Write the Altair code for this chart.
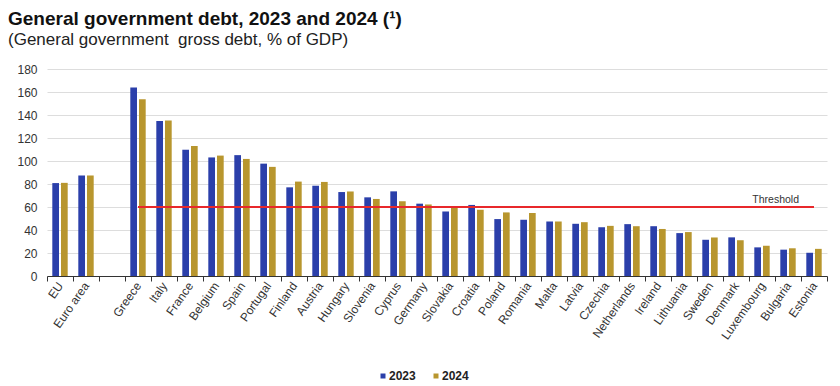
import altair as alt
import pandas as pd

countries = ["EU", "Euro area", "Greece", "Italy", "France", "Belgium", "Spain",
             "Portugal", "Finland", "Austria", "Hungary", "Slovenia", "Cyprus",
             "Germany", "Slovakia", "Croatia", "Poland", "Romania", "Malta",
             "Latvia", "Czechia", "Netherlands", "Ireland", "Lithuania", "Sweden",
             "Denmark", "Luxembourg", "Bulgaria", "Estonia"]
debt_2023 = [80.8, 87.4, 164.0, 134.8, 109.8, 103.1, 105.1, 97.7, 77.1, 78.5,
             73.0, 68.4, 73.6, 62.9, 56.1, 61.8, 49.5, 48.9, 47.4, 45.4, 42.4,
             45.1, 43.3, 37.3, 31.5, 33.6, 24.9, 22.9, 20.2]
debt_2024 = [81.0, 87.4, 153.8, 135.3, 113.0, 104.7, 101.8, 94.9, 82.1, 81.8,
             73.5, 67.0, 65.0, 62.2, 59.3, 57.6, 55.3, 54.8, 47.4, 46.8, 43.6,
             43.3, 40.9, 38.2, 33.5, 31.1, 26.3, 24.1, 23.6]
years = ["2023", "2024"]
threshold_value = 60
threshold_countries = countries[2:]
gap_label = " "
x_domain = countries[:2] + [gap_label] + countries[2:]
y_ticks = [0, 20, 40, 60, 80, 100, 120, 140, 160, 180]

rows = []
for c, a, b in zip(countries, debt_2023, debt_2024):
    rows.append({"country": c, "year": "2023", "value": a})
    rows.append({"country": c, "year": "2024", "value": b})
df = pd.DataFrame(rows)
df_thr = pd.DataFrame({"country": threshold_countries,
                       "value": [threshold_value] * len(threshold_countries)})
df_lbl = pd.DataFrame({"country": ["Bulgaria"], "value": [threshold_value],
                       "text": ["Threshold"]})

FONT = "Liberation Sans"
BLUE = "#2B3FAA"
GOLD = "#B8962E"

x_enc = alt.X("country:N", sort=x_domain,
              scale=alt.Scale(domain=x_domain, paddingInner=0, paddingOuter=0),
              axis=alt.Axis(title=None, labelAngle=305, labelFontSize=12,
                            labelColor="#333333", labelFont=FONT,
                            tickBand="extent", tickSize=5, tickColor="#333333",
                            domainColor="#333333", labelPadding=2))
y_enc = alt.Y("value:Q", scale=alt.Scale(domain=[0, 180], nice=False),
              axis=alt.Axis(title=None, values=y_ticks, domain=False, ticks=False,
                            labelOverlap=False, labelFontSize=12,
                            labelColor="#333333", labelFont=FONT,
                            gridColor="#dddddd", labelPadding=10))

bars = alt.Chart(df).mark_bar().encode(
    x=x_enc,
    xOffset=alt.XOffset("year:N", scale=alt.Scale(domain=years, paddingInner=0.23,
                                                   paddingOuter=0.61)),
    y=y_enc,
    color=alt.Color("year:N", scale=alt.Scale(domain=years, range=[BLUE, GOLD]),
                    legend=alt.Legend(title=None, orient="none", direction="horizontal",
                                      legendX=330, legendY=301, symbolType="square",
                                      symbolSize=25, labelFontSize=12,
                                      labelFontWeight="bold", labelFont=FONT,
                                      labelColor="#222222", labelOffset=0,
                                      columnPadding=14, symbolStrokeWidth=0)),
)

line = alt.Chart(df_thr).mark_line(color="#E8282B", strokeWidth=2).encode(
    x=x_enc, y=y_enc)

label = alt.Chart(df_lbl).mark_text(align="right", baseline="alphabetic", dx=11, dy=-4,
                                    fontSize=10.5, font=FONT, color="#333333").encode(
    x=x_enc, y=y_enc, text="text:N")

chart = alt.layer(bars, line, label).properties(
    width=780, height=207,
    autosize=alt.AutoSizeParams(type="none"),
    padding={"left": 39, "top": 61, "right": 5, "bottom": 110},
    title=alt.TitleParams(
        text="General government debt, 2023 and 2024 (¹)",
        subtitle="(General government\u00a0 gross debt, % of GDP)",
        anchor="start", frame="group", dx=-39, offset=15,
        font=FONT, fontSize=19, fontWeight="bold", color="#111111",
        subtitleFont=FONT, subtitleFontSize=17, subtitleColor="#222222",
        subtitlePadding=3),
).configure_view(stroke=None)

chart.save("out.html", embed_options={"renderer": "svg", "actions": False})
